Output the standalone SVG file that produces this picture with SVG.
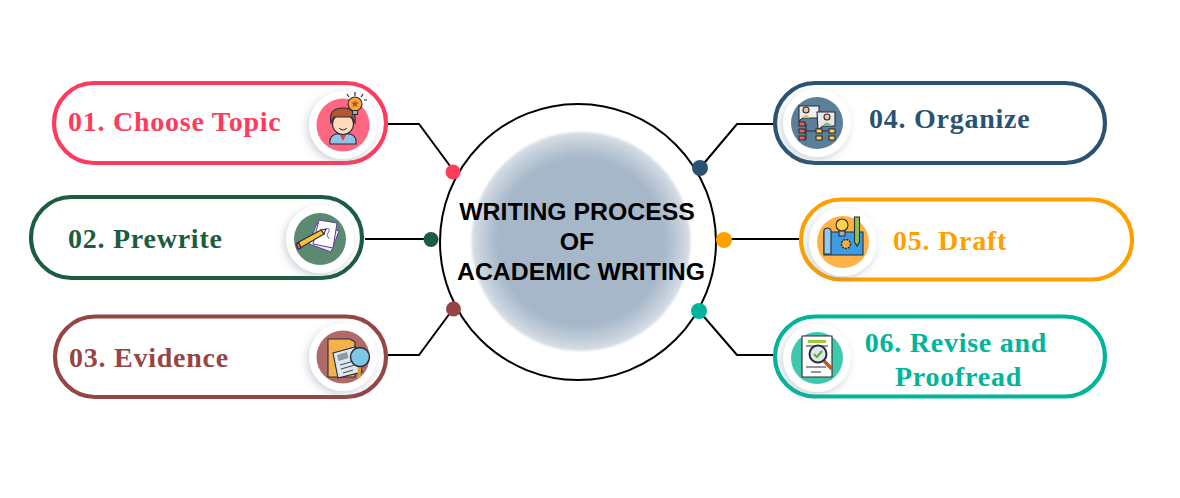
<svg xmlns="http://www.w3.org/2000/svg" width="1180" height="498" viewBox="0 0 1180 498">
<style>
.pill{fill:#fff;stroke-width:4.2}
.lbl{font-family:"Liberation Serif","DejaVu Serif",serif;font-weight:700;font-size:28px;letter-spacing:.75px}
.ctr{font-family:"Liberation Sans",Arial,sans-serif;font-weight:700;font-size:24.8px;fill:#000;text-anchor:middle}
.halo{fill:#fff;filter:url(#sh)}
.ln{fill:none;stroke:#000;stroke-width:2}
.o{stroke:#2b2b3a;stroke-width:1.1}
</style>
<defs>
<filter id="sh" x="-30%" y="-30%" width="170%" height="170%"><feDropShadow dx="-2" dy="3" stdDeviation="4" flood-color="#6f8299" flood-opacity=".35"/></filter>
<radialGradient id="cg"><stop offset="0.76" stop-color="#a5b7c9"/><stop offset="0.9" stop-color="#c2cdd9"/><stop offset="1" stop-color="#d8dfe7"/></radialGradient>
<filter id="soft" x="-10%" y="-10%" width="120%" height="120%"><feGaussianBlur stdDeviation="1.200"/></filter>
</defs>

<g id="connectors">
<polyline class="ln" points="388,124 419,124 453,170"/>
<line class="ln" x1="365" y1="239" x2="431" y2="239"/>
<polyline class="ln" points="388,355 419,355 453,309"/>
<polyline class="ln" points="773,124 737,124 700,168"/>
<line class="ln" x1="800" y1="239" x2="724" y2="239"/>
<polyline class="ln" points="773,355 737,355 699,311"/>
</g>

<g id="center">
<circle cx="578" cy="242" r="138" fill="#fff" stroke="#000" stroke-width="2"/>
<circle cx="581" cy="241.500" r="109.500" fill="url(#cg)" filter="url(#soft)"/>
<text class="ctr" x="577" y="220">WRITING PROCESS</text>
<text class="ctr" x="577" y="250">OF</text>
<text class="ctr" x="581" y="280">ACADEMIC WRITING</text>
</g>

<g id="dots">
<circle cx="453" cy="172" r="7.500" fill="#ff3b5c"/>
<circle cx="431" cy="239.500" r="7.500" fill="#1c5c3f"/>
<circle cx="453.500" cy="309" r="7.500" fill="#964545"/>
<circle cx="700" cy="168" r="8" fill="#2a5273"/>
<circle cx="724" cy="240" r="8" fill="#ff9f00"/>
<circle cx="699" cy="311" r="8" fill="#00b59a"/>
</g>

<g id="node1">
<rect class="pill" x="54" y="83" width="332" height="80" rx="40" stroke="#ff3b5c"/>
<circle class="halo" cx="343" cy="125" r="34"/>
<circle cx="343" cy="125" r="26.500" fill="#ff6681"/>
<path d="M330 144v-3q0-5 6-7h14q6 2 6 7v3z" fill="#8ec4e6" class="o"/>
<path d="M340 135l3 6 3-6z" fill="#e2453f"/>
<circle cx="343" cy="124" r="10.500" fill="#ffd9bd" class="o"/>
<path d="M331 123q-3-15 12-15 14 0 12 15l-3-6h-18z" fill="#b5562e" class="o"/>
<path d="M339 128q4 4 8 0" fill="none" stroke="#2b2b3a"/>
<circle cx="355" cy="104" r="7" fill="#f4a93d" class="o"/>
<path d="M352.500 110.500h5v4h-5z" fill="#9fb0bd" class="o"/>
<path d="M355 100l1.200 2.500h2.800l-2.200 2 .8 2.800-2.600-1.500-2.600 1.500.8-2.800-2.200-2h2.800z" fill="#c2571a"/>
<path d="M347 94l2 3M355 92v4M363 94l-2 3M367 100h-3" stroke="#2b2b3a" stroke-width="1.200" fill="none"/>
<text class="lbl" x="68" y="131" fill="#ff3b5c">01. Choose Topic</text>
</g>

<g id="node2">
<rect class="pill" x="31" y="197" width="331" height="81" rx="40.500" stroke="#1c5c3f"/>
<circle class="halo" cx="320" cy="239" r="34"/>
<circle cx="320" cy="239" r="26" fill="#5a8a70"/>
<path d="M317 223l22 8-8 21-22-8z" fill="#f0ebfa" stroke="#5a3d9a"/>
<path d="M319 220l18 3-4 25-20-4z" fill="#fff" stroke="#5a3d9a"/>
<path d="M326 229q4-2 3 2l-2 4 2 4" fill="none" stroke="#7a5cb0"/>
<path d="M297 243l24-13 3 4-24 14z" fill="#fbc02d" class="o"/>
<path d="M321 230l5-1-2 5z" fill="#ffe0bd" class="o"/>
<path d="M296 244l3-1 2 5-3 1z" fill="#ee4a7b" class="o"/>
<text class="lbl" x="68" y="248" fill="#1c5c3f">02. Prewrite</text>
</g>

<g id="node3">
<rect class="pill" x="55" y="316.500" width="331" height="80.500" rx="40" stroke="#964545"/>
<circle class="halo" cx="343" cy="357" r="34"/>
<circle cx="343" cy="357" r="26.500" fill="#b06a6a"/>
<path d="M328 339h22l5 3v35h-27z" fill="#f3b24a" class="o"/>
<path d="M333 353l22-6 7 25-24 6z" fill="#dfe7ee" class="o"/>
<path d="M337 355l10-3 1.500 6-10 3z" fill="#8c9aa6"/>
<path d="M340 365l14-4M341 369l14-4M343 373l10-3" fill="none" stroke="#3a4a5a"/>
<path d="M359.500 366l-.5 12" stroke="#e2a02f" stroke-width="3"/>
<circle cx="360" cy="357" r="9.500" fill="#7cc8e6" stroke="#2b2b3a" stroke-width="1.500"/>
<text class="lbl" x="69" y="367" fill="#964545">03. Evidence</text>
</g>

<g id="node4">
<rect class="pill" x="775" y="83" width="330" height="80" rx="40" stroke="#2a5273"/>
<circle class="halo" cx="817" cy="123" r="34"/>
<circle cx="817" cy="123" r="26" fill="#5c7f99"/>
<path d="M806 124v16M806 131h22" stroke="#2b2b3a" fill="none"/>
<path d="M799 106h20v12h-16l-4 3z" fill="#f0f0f0" class="o"/>
<circle cx="806" cy="110" r="3" fill="#f7c08a" class="o"/>
<path d="M802 118q4-6 8 0z" fill="#f3b24a"/>
<path d="M817 112h18v14h-12l-5 4z" fill="#e8e8e8" class="o"/>
<circle cx="827" cy="117" r="3" fill="#f7c08a" class="o"/>
<path d="M822 126q5-7 10 0z" fill="#7cc36b"/>
<path d="M799 122h6v4h-6zM799 129h6v4h-6zM799 136h6v4h-6z" fill="#ef5b4c" class="o"/>
<path d="M816 129h6v4h-6zM829 129h6v4h-6zM816 136h6v4h-6zM829 136h6v4h-6z" fill="#fbd34d" class="o"/>
<text class="lbl" x="869" y="128" fill="#2a5273">04. Organize</text>
</g>

<g id="node5">
<rect class="pill" x="801" y="199.500" width="331" height="80" rx="40" stroke="#ff9f00"/>
<circle class="halo" cx="843" cy="242" r="34"/>
<circle cx="843" cy="242" r="26" fill="#ffb347"/>
<path d="M824 232h39v23h-39z" fill="#3f9ce0" class="o"/>
<path d="M824 230a4 4 0 0 1 7 0v24h-7z" fill="#8ecbf0" class="o"/>
<circle cx="842" cy="225" r="6" fill="#fbd34d" class="o"/>
<path d="M839 231h6v5h-6z" fill="#9fb0bd" class="o"/>
<circle cx="846" cy="244" r="4.500" fill="#fbb034" stroke="#2b2b3a" stroke-width="1.500" stroke-dasharray="2 1"/>
<path d="M854.500 217h5v25l-2.500 4-2.500-4z" fill="#8bc34a" class="o"/>
<text class="lbl" x="893" y="250" fill="#ff9f00">05. Draft</text>
</g>

<g id="node6">
<rect class="pill" x="775" y="316.500" width="330" height="80" rx="40" stroke="#00b59a"/>
<circle class="halo" cx="817" cy="358" r="34"/>
<circle cx="817" cy="358" r="26" fill="#3fc8ae"/>
<path d="M802 336h30v41h-30z" fill="#fff" class="o"/>
<path d="M808 340h18v3h-18z" fill="#9ccc3c"/>
<path d="M806 346h22M806 367h20M811 372h10" stroke="#2b2b3a" fill="none"/>
<path d="M824 361l8 8" stroke="#c2571a" stroke-width="3.500"/>
<circle cx="818" cy="354" r="8.500" fill="#dfe7ee" stroke="#2b2b3a" stroke-width="2"/>
<path d="M814 354l3 3 5-6" stroke="#5bb318" stroke-width="2" fill="none"/>
<text class="lbl" text-anchor="middle" x="956" y="352" fill="#00b59a">06. Revise and</text>
<text class="lbl" text-anchor="middle" x="958.500" y="386" fill="#00b59a">Proofread</text>
</g>
</svg>
